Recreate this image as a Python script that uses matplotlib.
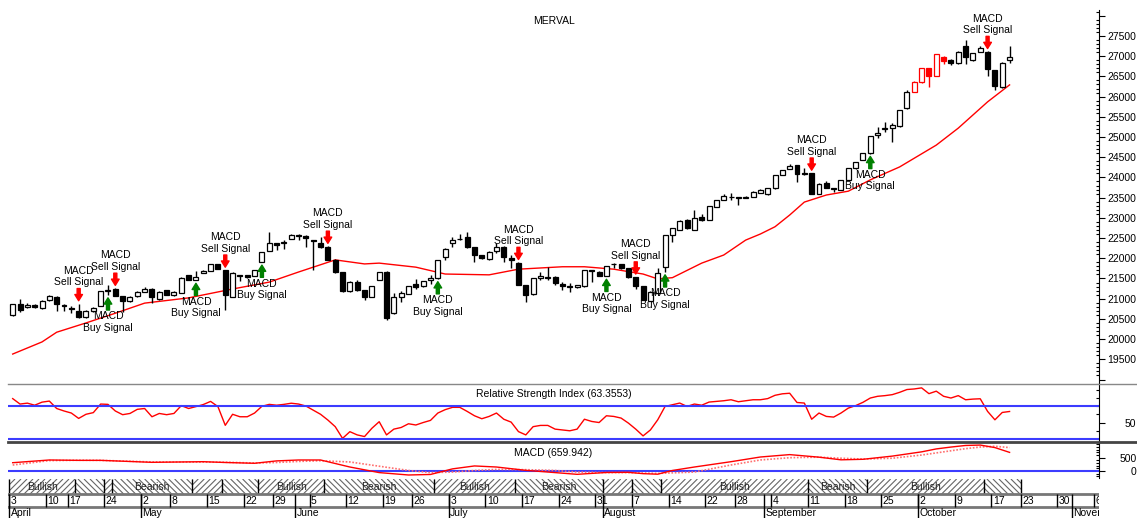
import matplotlib
matplotlib.use("Agg")
import matplotlib.pyplot as plt
from matplotlib.lines import Line2D
from matplotlib.patches import Rectangle
from matplotlib.collections import LineCollection
import numpy as np
import pandas as pd

plt.rcParams['font.family'] = ['Liberation Sans', 'DejaVu Sans']
plt.rcParams['font.size'] = 7.5

# trading calendar (Buenos Aires exchange, 2017)
holidays = ['2017-04-13', '2017-04-14', '2017-05-01', '2017-05-25',
            '2017-06-20', '2017-08-21', '2017-10-16']
days = pd.bdate_range('2017-04-03', '2017-11-17', freq='C', holidays=holidays)

# daily candles
opens = [20600, 20880, 20800, 20850, 20760, 20970, 21050, 20850, 20770, 20700,
         20540, 20700, 20820, 21200, 21250, 21070, 20940, 21060, 21170, 21250,
         20980, 21210, 21080, 21150, 21580, 21460, 21640, 21690, 21860, 21700,
         21050, 21580, 21580, 21560, 21910, 22190, 22370, 22370, 22480, 22580,
         22560, 22450, 22390, 22270, 21960, 21650, 21180, 21420, 21210, 21050,
         21470, 21670, 20640, 21030, 21120, 21360, 21310, 21460, 21500, 22040,
         22370, 22470, 22520, 22270, 22080, 21970, 22190, 22290, 22010, 21890,
         21340, 21110, 21500, 21530, 21540, 21360, 21310, 21280, 21310, 21700,
         21670, 21560, 21870, 21850, 21750, 21530, 21310, 20950, 21130, 21790,
         22570, 22700, 22950, 22700, 23020, 22950, 23280, 23440, 23520, 23510,
         23490, 23520, 23620, 23600, 23730, 24070, 24220, 24300, 24100, 24100,
         23590, 23870, 23730, 23690, 23940, 24230, 24430, 24600, 25060, 25190,
         25230, 25270, 25710, 26120, 26350, 26700, 26510, 26990, 26910, 26820,
         27240, 26900, 27110, 27110, 26660, 26230, 26900]
highs = [20880, 20980, 20900, 20880, 20960, 21100, 21060, 20860, 20820, 20880,
         20710, 20800, 21200, 21340, 21260, 21070, 21060, 21180, 21280, 21260,
         21180, 21220, 21180, 21530, 21590, 21690, 21700, 21870, 21870, 21710,
         21650, 21590, 21590, 21720, 22160, 22660, 22380, 22450, 22600, 22590,
         22570, 22460, 22520, 22300, 21970, 21660, 21430, 21460, 21220, 21320,
         21670, 21680, 21130, 21200, 21320, 21480, 21440, 21580, 21960, 22250,
         22520, 22610, 22660, 22280, 22090, 22170, 22370, 22300, 22080, 21900,
         21350, 21510, 21670, 21790, 21550, 21420, 21380, 21340, 21720, 21710,
         21680, 21820, 21880, 21860, 21760, 21540, 21320, 21180, 21750, 22580,
         22750, 22940, 22960, 23200, 23100, 23300, 23450, 23590, 23620, 23520,
         23540, 23660, 23710, 23740, 24070, 24190, 24330, 24310, 24240, 24110,
         23860, 23920, 23740, 23940, 24240, 24380, 24610, 25030, 25250, 25380,
         25340, 25680, 26160, 26380, 26710, 26710, 27060, 27000, 26920, 27140,
         27400, 27080, 27260, 27120, 26670, 26860, 27240]
lows = [20580, 20680, 20780, 20760, 20740, 20950, 20700, 20690, 20650, 20510,
        20530, 20660, 20810, 21090, 21060, 20680, 20920, 21050, 21160, 20900,
        20970, 21080, 21070, 21140, 21450, 21450, 21630, 21680, 21730, 20720,
        21040, 21430, 21520, 21550, 21900, 22180, 22200, 22240, 22470, 22460,
        22290, 21710, 22250, 21950, 21630, 21170, 21170, 21200, 20960, 21040,
        21460, 20470, 20630, 20930, 21110, 21250, 21300, 21360, 21490, 21960,
        22290, 22440, 22260, 21910, 21990, 21960, 22120, 21910, 21750, 21330,
        20920, 21100, 21460, 21460, 21340, 21210, 21170, 21270, 21300, 21420,
        21550, 21550, 21750, 21740, 21520, 21250, 20960, 20940, 21120, 21660,
        22410, 22690, 22730, 22690, 22920, 22940, 23270, 23430, 23440, 23320,
        23480, 23510, 23610, 23560, 23720, 24060, 24210, 23890, 24070, 23580,
        23580, 23740, 23630, 23680, 23930, 24220, 24420, 24590, 24970, 25130,
        24880, 25260, 25700, 26110, 26340, 26230, 26500, 26800, 26780, 26810,
        26800, 26890, 27100, 26500, 26160, 26220, 26840]
closes = [20870, 20720, 20840, 20790, 20950, 21060, 20870, 20810, 20750, 20550,
          20700, 20780, 21190, 21220, 21070, 20950, 21050, 21170, 21250, 21050,
          21170, 21090, 21170, 21520, 21460, 21530, 21690, 21860, 21740, 21090,
          21640, 21560, 21530, 21710, 22150, 22370, 22340, 22400, 22570, 22560,
          22500, 22430, 22290, 21960, 21650, 21180, 21420, 21210, 21050, 21310,
          21660, 20510, 21050, 21130, 21310, 21290, 21430, 21500, 21950, 22240,
          22450, 22480, 22270, 22080, 22000, 22160, 22290, 22040, 21960, 21340,
          21090, 21500, 21560, 21510, 21380, 21310, 21280, 21330, 21710, 21680,
          21560, 21810, 21850, 21750, 21530, 21310, 20970, 21170, 21640, 22570,
          22740, 22930, 22740, 22990, 22950, 23290, 23440, 23540, 23520, 23490,
          23520, 23650, 23700, 23730, 24060, 24180, 24280, 24080, 24080, 23590,
          23850, 23750, 23720, 23930, 24230, 24370, 24600, 25020, 25090, 25230,
          25300, 25670, 26120, 26370, 26700, 26510, 27050, 26870, 26840, 27110,
          26990, 27070, 27210, 26680, 26260, 26820, 26990]
red_candles = [123, 124, 125, 126, 127]

# moving average (read at selected sessions)
ma_idx = [0, 4, 6, 10, 14, 18, 24, 30, 35, 39, 43, 44, 48, 50, 55, 59, 65, 69,
          75, 78, 82, 86, 88, 90, 94, 97, 100, 102, 104, 106, 108, 111, 114,
          117, 121, 126, 129, 133, 136]
ma_val = [19630, 19930, 20170, 20400, 20640, 20890, 21020, 21240, 21410, 21660,
          21900, 21960, 21860, 21880, 21780, 21610, 21590, 21730, 21790, 21790,
          21730, 21610, 21490, 21520, 21880, 22080, 22450, 22600, 22780, 23070,
          23390, 23565, 23660, 23940, 24260, 24800, 25220, 25870, 26290]

# RSI, one value per session
rsi = [79, 72.4, 73.5, 71, 74.7, 76, 67, 64, 61.5, 55,
       60, 62, 72.4, 72, 64, 59.5, 61, 66, 67, 57,
       61, 59.5, 61, 70.5, 67, 69.3, 71.8, 75.6, 69.3, 46.6,
       60, 57, 57, 61.5, 69.7, 72, 71, 72, 73.4, 72.4,
       70, 65, 60, 53, 45, 30.8, 38.9, 35, 33, 43,
       51, 35, 42, 44, 48.5, 47, 50, 52.6, 61.5, 65.6,
       68.4, 68.4, 63.5, 58.2, 54.6, 57.4, 61.5, 54, 50.5, 39,
       35, 45, 46.5, 46.5, 42, 41, 40, 42, 54, 51.3,
       50, 58.2, 57.4, 55.4, 49.3, 42, 33.8, 41, 53.3, 69.5,
       71.6, 73.6, 69.5, 72.4, 71, 74.8, 75.6, 76.4, 77.6, 75.2,
       76.4, 77.6, 77.6, 79, 83, 84.8, 85.5, 74.3, 73.6, 54,
       61.5, 57.4, 56.6, 61.5, 67.5, 70.5, 74.5, 79.7, 81.8, 82.6,
       83.8, 86.6, 90, 90.7, 92, 85, 88, 81.8, 79.7, 82.6,
       77.6, 78.4, 78.8, 63.5, 53.3, 62.2, 63.4]

# MACD and signal line (read at selected sessions)
macd_idx = [0, 5, 9, 12, 19, 26, 29, 33, 36, 39, 42, 46, 50, 54, 57, 60, 63, 66,
            70, 74, 77, 81, 84, 86, 88, 90, 93, 98, 102, 106, 110, 113, 116, 120,
            124, 126, 128, 130, 132, 134, 136]
macd_val = [312, 414, 400, 400, 326, 350, 320, 290, 380, 414, 414, 150, -60, -150,
            -130, 80, 190, 150, 25, -60, -125, -55, -50, -100, -120, 20, 150, 350,
            526, 616, 520, 420, 440, 560, 720, 830, 900, 960, 975, 880, 700]
signal_val = [225, 390, 405, 400, 340, 335, 330, 300, 320, 360, 385, 340, 180, 20,
              -60, -40, 20, 60, 50, 20, -40, -60, -60, -75, -90, -70, -40, 226,
              414, 500, 520, 480, 450, 480, 600, 680, 760, 840, 900, 930, 880]

sell_idx = [9, 14, 29, 43, 69, 85, 109, 133]
buy_idx = [13, 25, 34, 58, 81, 89, 117]

W, H = 1137, 518


def box(x0, y0, x1, y1):
    return [x0 / W, 1 - y1 / H, (x1 - x0) / W, (y1 - y0) / H]


fig = plt.figure(figsize=(W / 100, H / 100), dpi=100)
ax = fig.add_axes(box(8, 10, 1099, 384))
ax_rsi = fig.add_axes(box(8, 384, 1099, 442))
ax_macd = fig.add_axes(box(8, 442, 1099, 478))
ax_t = fig.add_axes(box(8, 478, 1099, 518))

xlim = (-0.64, 148.2)
for a in (ax, ax_rsi, ax_macd, ax_t):
    a.set_xlim(*xlim)
    a.set_xticks([])
    for s in ('top', 'left', 'bottom'):
        a.spines[s].set_visible(False)
    a.spines['right'].set_linewidth(0.8)
ax_t.spines['right'].set_visible(False)
ax_t.set_yticks([])

# ---- price panel
n = len(closes)
for i in range(n):
    o, h, l, c = opens[i], highs[i], lows[i], closes[i]
    edge = 'red' if i in red_candles else 'black'
    fill = 'white' if c >= o else edge
    ax.vlines(i, l, h, color=edge, lw=1, zorder=2)
    ax.bar(i, max(abs(c - o), 8), bottom=min(o, c), width=0.68,
           color=fill, edgecolor=edge, linewidth=0.9, zorder=3)

ax.plot(ma_idx, ma_val, color='red', lw=1, zorder=1)

arrow_style = 'simple,head_width=0.55,head_length=0.45,tail_width=0.22'
for i in sell_idx:
    ax.annotate('', xy=(i, highs[i]), xytext=(0, 15), textcoords='offset pixels',
                arrowprops=dict(arrowstyle=arrow_style, color='red',
                                shrinkA=0, shrinkB=2, mutation_scale=10))
    ax.annotate('MACD\nSell Signal', xy=(i, highs[i]), xytext=(0, 27),
                textcoords='offset pixels', ha='center', va='center')
for i in buy_idx:
    ax.annotate('', xy=(i, lows[i]), xytext=(0, -15), textcoords='offset pixels',
                arrowprops=dict(arrowstyle=arrow_style, color='green',
                                shrinkA=0, shrinkB=2, mutation_scale=10))
    ax.annotate('MACD\nBuy Signal', xy=(i, lows[i]), xytext=(0, -27),
                textcoords='offset pixels', ha='center', va='center')

ax.set_ylim(18889, 28143)
ax.yaxis.tick_right()
ax.set_yticks(range(19000, 28001, 500),
              ['' if v in (19000, 28000) else str(v) for v in range(19000, 28001, 500)])
ax.set_yticks(range(18900, 28101, 100), minor=True)
ax.text(0.5, 1 - 11 / 374, 'MERVAL', transform=ax.transAxes, ha='center', va='center')

# ---- RSI panel
ax_rsi.plot(range(len(rsi)), rsi, color='red', lw=1)
for lv in (70, 30):
    ax_rsi.axhline(lv, color='#3c3cff', lw=1.5)
ax_rsi.set_ylim(26.4, 96.7)
ax_rsi.yaxis.tick_right()
ax_rsi.set_yticks([50], ['50'])
ax_rsi.set_yticks([30, 40, 60, 70, 80, 90], minor=True)
ax_rsi.text(0.5, 1 - 10 / 58, 'Relative Strength Index (63.3553)',
            transform=ax_rsi.transAxes, ha='center', va='center')

# ---- MACD panel
ax_macd.axhline(0, color='#3c3cff', lw=1.5)
ax_macd.plot(macd_idx, signal_val, color='#ff7070', lw=1.2, ls=(0, (1, 1)))
ax_macd.plot(macd_idx, macd_val, color='red', lw=1)
ax_macd.set_ylim(-263, 1090)
ax_macd.yaxis.tick_right()
ax_macd.set_yticks([0, 500], ['0', '500'])
ax_macd.set_yticks(range(-200, 1001, 100), minor=True)
ax_macd.text(0.5, 1 - 10.7 / 36, 'MACD (659.942)', transform=ax_macd.transAxes,
             ha='center', va='center')

for a in (ax, ax_rsi, ax_macd):
    a.tick_params(axis='y', which='major', direction='out', length=4, width=0.8, pad=23)
    a.tick_params(axis='y', which='minor', direction='in', length=2.5, width=0.8)
    for lbl in a.get_yticklabels():
        lbl.set_horizontalalignment('right')

# ---- bullish / bearish band (rows measured in pixels, 0 at top)
ax_t.set_ylim(40, 0)
day_px = 1091 / (xlim[1] - xlim[0])
band_top, band_bot = 1, 16
run = (band_bot - band_top) / day_px      # 45 degree hatch, in day units
gap = 6 / day_px                          # hatch spacing ~6 px
events = sorted([(i, 'sell') for i in sell_idx] + [(i, 'buy') for i in buy_idx])
edges = [-0.5] + [e[0] - 0.5 for e in events] + [n + 0.5]
states = ['Bullish'] + ['Bearish' if e[1] == 'sell' else 'Bullish' for e in events]
for k, st in enumerate(states):
    x0, x1 = edges[k], edges[k + 1]
    clip = Rectangle((x0, band_top), x1 - x0, band_bot - band_top,
                     facecolor='none', edgecolor='none')
    ax_t.add_patch(clip)
    starts = np.arange(x0 - run, x1 + gap, gap)
    if st == 'Bullish':
        segs = [[(s, band_bot), (s + run, band_top)] for s in starts]
    else:
        segs = [[(s, band_top), (s + run, band_bot)] for s in starts]
    lc = LineCollection(segs, colors='#666666', linewidths=0.8)
    ax_t.add_collection(lc)
    lc.set_clip_path(clip)
    if x1 - x0 > 7:
        ax_t.text((x0 + x1) / 2, 8.5, st, ha='center', va='center', color='#222222')
ax_t.vlines(edges, band_top, band_bot, color='black', lw=1)

# ---- date scale
ax_t.axhline(16, color='#777777', lw=2)
ax_t.axhline(29, color='#777777', lw=2)
for k, d in enumerate(days):
    new_week = k == 0 or d.weekday() < days[k - 1].weekday()
    new_month = k == 0 or d.month != days[k - 1].month
    if new_week:
        ax_t.vlines(k - 0.5, 16, 29, color='black', lw=1)
        ax_t.text(k - 0.3, 22.5, str(d.day), ha='left', va='center', clip_on=True)
    if new_month:
        ax_t.vlines(k - 0.5, 16, 40, color='black', lw=1)
        ax_t.text(k - 0.3, 35, d.strftime('%B'), ha='left', va='center', clip_on=True)

# panel separators
fig.add_artist(Line2D([8 / W, 1], [1 - 384 / H] * 2, color='#888888', lw=1))
fig.add_artist(Line2D([8 / W, 1], [1 - 442 / H] * 2, color='#444444', lw=2))

fig.savefig('out.png', dpi=100)
